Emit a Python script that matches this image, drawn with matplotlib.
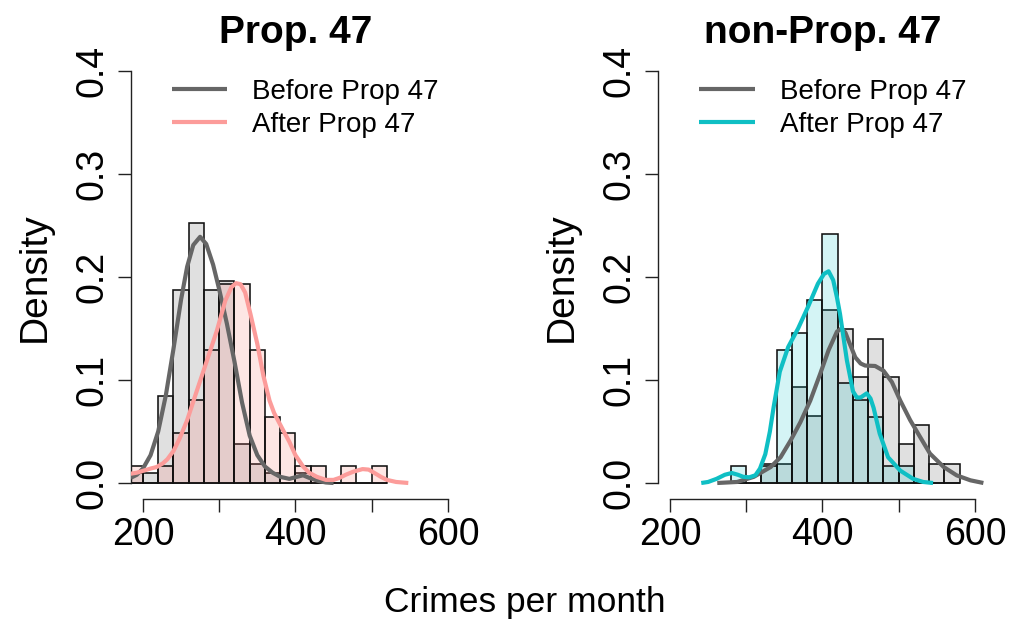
import matplotlib
matplotlib.use("Agg")
import matplotlib.pyplot as plt
import numpy as np

plt.rcParams["font.family"] = ["Liberation Sans", "DejaVu Sans"]

# histogram bins (20 crimes wide), left edges
bins_prop = [180, 200, 220, 240, 260, 280, 300, 320, 340, 360, 380, 400, 420, 440, 460, 480, 500]
bins_nonprop = [280, 300, 320, 340, 360, 380, 400, 420, 440, 460, 480, 500, 520, 540, 560]
bin_width = 20

n_before = 107
n_after = 62

# counts per bin
prop_before_counts = [1, 1, 9, 20, 27, 20, 21, 4, 2, 1, 0, 1, 0, 0, 0, 0, 0]
prop_after_counts = [1, 0, 1, 3, 5, 8, 12, 12, 8, 4, 3, 1, 1, 0, 1, 0, 1]
nonprop_before_counts = [0, 0, 2, 2, 10, 7, 18, 16, 11, 15, 11, 4, 6, 2, 2]
nonprop_after_counts = [1, 0, 1, 8, 9, 11, 15, 6, 5, 4, 1, 1, 0, 0, 0]

# density curves
prop_before_x = [184, 192, 200, 210, 220, 230, 240, 250, 258, 266, 275, 283, 292, 300, 310,
                 320, 330, 340, 350, 360, 370, 380, 392, 402, 410, 418, 430, 440, 450]
prop_before_y = [0.005, 0.008, 0.014, 0.027, 0.050, 0.085, 0.130, 0.178, 0.210, 0.231, 0.239,
                 0.232, 0.212, 0.188, 0.155, 0.118, 0.078, 0.046, 0.027, 0.016, 0.010, 0.006,
                 0.004, 0.006, 0.0075, 0.005, 0.002, 0.0005, 0.0]
prop_after_x = [184, 192, 201, 210, 218, 226, 232, 240, 248, 258, 270, 284, 297, 308, 316, 322,
                328, 334, 341, 350, 358, 366, 372, 384, 392, 400, 410, 418, 428, 440, 450, 458,
                466, 476, 488, 496, 503, 512, 520, 532, 548]
prop_after_y = [0.009, 0.010, 0.012, 0.014, 0.0155, 0.019, 0.023, 0.031, 0.043, 0.061, 0.088,
                0.119, 0.148, 0.177, 0.190, 0.194, 0.193, 0.185, 0.164, 0.135, 0.104, 0.080,
                0.068, 0.051, 0.040, 0.027, 0.016, 0.010, 0.006, 0.003, 0.003, 0.005, 0.008,
                0.011, 0.0135, 0.013, 0.010, 0.006, 0.003, 0.001, 0.0]
nonprop_before_x = [262, 288, 310, 332, 345, 358, 371, 384, 397, 408, 419, 425, 430, 434, 443,
                    450, 456, 469, 480, 491, 502, 515, 528, 541, 559, 576, 594, 611]
nonprop_before_y = [0.0, 0.001, 0.006, 0.0155, 0.025, 0.041, 0.059, 0.080, 0.106, 0.129, 0.147,
                    0.150, 0.146, 0.1385, 0.122, 0.116, 0.114, 0.1136, 0.109, 0.098, 0.080,
                    0.061, 0.0447, 0.0285, 0.0155, 0.0074, 0.0026, 0.0]
nonprop_after_x = [241, 250, 261, 272, 281, 289, 296, 304, 312, 318, 325, 331, 336, 344, 355,
                   368, 381, 394, 402, 408, 414, 419, 423, 432, 440, 445, 450, 458, 463, 467,
                   475, 486, 502, 519, 532, 545]
nonprop_after_y = [0.0, 0.001, 0.004, 0.008, 0.0097, 0.008, 0.006, 0.0055, 0.0075, 0.014, 0.028,
                   0.050, 0.074, 0.108, 0.132, 0.150, 0.171, 0.1935, 0.203, 0.2055, 0.197, 0.180,
                   0.164, 0.119, 0.089, 0.083, 0.083, 0.087, 0.082, 0.073, 0.048, 0.025, 0.012,
                   0.004, 0.001, 0.0]

grey_line = "#666666"
pink_line = "#FC9C9A"
cyan_line = "#0FBFC4"
grey_fill = (0.6, 0.6, 0.6, 0.3)
pink_fill = (0.97, 0.46, 0.43, 0.18)
cyan_fill = (0.0, 0.75, 0.77, 0.17)

panels = [
	("Prop. 47", bins_prop, prop_before_counts, prop_after_counts,
	 prop_before_x, prop_before_y, prop_after_x, prop_after_y, pink_line, pink_fill, 0.1278),
	("non-Prop. 47", bins_nonprop, nonprop_before_counts, nonprop_after_counts,
	 nonprop_before_x, nonprop_before_y, nonprop_after_x, nonprop_after_y, cyan_line, cyan_fill, 0.643),
]

fig = plt.figure(figsize=(10.23, 6.2), dpi=100)

for (title, bins, before_c, after_c, bx, by, axx, ayy, col, fill, left) in panels:
	ax = fig.add_axes([left, 0.1944, 0.322, 0.7177])
	before_d = np.array(before_c) / n_before
	after_d = np.array(after_c) / n_after
	ax.bar(bins, before_d, width=bin_width, align="edge", color=grey_fill,
		   edgecolor="#111111", linewidth=1.15, zorder=2)
	ax.bar(bins, after_d, width=bin_width, align="edge", color=fill,
		   edgecolor="#111111", linewidth=1.15, zorder=2)
	ax.plot(bx, by, color=grey_line, lw=3, label="Before Prop 47", zorder=3,
			solid_capstyle="butt")
	ax.plot(axx, ayy, color=col, lw=3, label="After Prop 47", zorder=3,
			solid_capstyle="butt")

	ax.set_xlim(184, 616)
	ax.set_ylim(-0.016, 0.416)
	for s in ["top", "right"]:
		ax.spines[s].set_visible(False)
	ax.spines["left"].set_bounds(0, 0.4)
	ax.spines["bottom"].set_bounds(200, 600)
	for s in ["left", "bottom"]:
		ax.spines[s].set_color("#222222")
		ax.spines[s].set_linewidth(1)

	ax.set_xticks([200, 300, 400, 500, 600])
	ax.set_xticklabels(["200", "", "400", "", "600"])
	ax.set_yticks([0, 0.1, 0.2, 0.3, 0.4])
	ax.set_yticklabels(["0.0", "0.1", "0.2", "0.3", "0.4"], rotation=90, va="center")
	ax.tick_params(axis="both", length=9.5, width=1, color="#222222", labelsize=27)
	ax.tick_params(axis="x", pad=3)
	ax.tick_params(axis="y", pad=5)

	ax.set_title(title, fontsize=28, fontweight="bold", pad=8)
	ax.set_ylabel("Density", fontsize=28)
	ax.yaxis.set_label_coords(-0.236, 0.5)

	ax.legend(loc="upper left", bbox_to_anchor=(0.125, 0.945), frameon=False,
			  fontsize=20, handlelength=2.0, handletextpad=0.9, labelspacing=0.25,
			  borderpad=0, borderaxespad=0)

fig.text(0.513, 0.0134, "Crimes per month", fontsize=25.5, ha="center", va="baseline")

fig.savefig("out.png", dpi=100)
